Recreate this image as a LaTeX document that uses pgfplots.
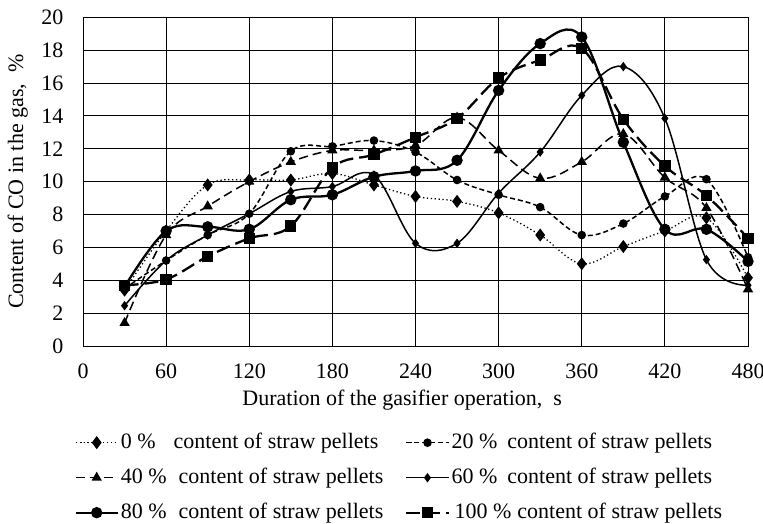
\documentclass[border=0pt]{standalone}
\usepackage{fontspec}
\setmainfont{Liberation Serif}
\usepackage{pgfplots}
\pgfplotsset{compat=1.18}
\begin{document}
\fontsize{22bp}{26bp}\selectfont
\begin{tikzpicture}
\path[use as bounding box] (0bp,0bp) rectangle (763bp,524bp);
\begin{axis}[
  at={(83bp,178bp)}, anchor=south west,
  scale only axis, width=665bp, height=328.7bp,
  xmin=0, xmax=480, ymin=0, ymax=20,
  xtick={0,60,...,480}, ytick={0,2,...,20},
  grid=major, grid style={black, line width=1bp},
  axis line style={black, line width=1bp},
  major tick length=0pt,
  /pgf/number format/assume math mode=true,
  ticklabel style={font=\fontsize{22bp}{26bp}\selectfont},
  yticklabel style={xshift=-12bp},
  xticklabel style={yshift=-10bp},
  xlabel={Duration of the gasifier operation,\ \ s},
  ylabel={Content of CO in the gas,\ \ \%},
  label style={font=\fontsize{22bp}{26bp}\selectfont},
  xlabel style={at={(axis description cs:0.48,-0.18)}, anchor=base},
  ylabel style={at={(axis description cs:-0.098,0.5)}, anchor=center},
  legend columns=2,
  legend cell align=left,
  legend style={at={(axis description cs:-0.013,-0.2616)}, anchor=north west,
    draw=none, fill=none, inner sep=0pt, row sep=14bp,
    font=\fontsize{22bp}{26bp}\selectfont,
    nodes={inner xsep=2bp, inner ysep=0pt, text height=16bp, text depth=5bp},
    /tikz/every even column/.append style={column sep=20bp}},
  legend image code/.code={\draw[mark repeat=2,mark phase=2,#1] plot coordinates {(0bp,0bp) (21bp,0bp) (42bp,0bp)};},
  every axis plot/.append style={smooth, tension=0.6, black},
]
\addplot[line width=1.3bp, dash pattern=on 1.3bp off 2.6bp, mark=diamond*, mark size=5.5bp, mark options={solid}]
 coordinates {(30,3.4)(60,7.0)(90,9.8)(120,10.1)(150,10.1)(180,10.5)(210,9.8)(240,9.1)(270,8.8)(300,8.1)(330,6.75)(360,5.0)(390,6.05)(420,7.0)(450,7.8)(480,4.15)};
\addlegendentry{0 \%\hspace{18bp}content of straw pellets}
\addplot[line width=1.5bp, dash pattern=on 5bp off 3bp, mark=*, mark size=3.5bp, mark options={solid}]
 coordinates {(30,3.5)(60,5.2)(90,6.75)(120,8.05)(150,11.85)(180,12.15)(210,12.5)(240,11.8)(270,10.1)(300,9.2)(330,8.45)(360,6.75)(390,7.45)(420,9.1)(450,10.15)(480,5.4)};
\addlegendentry{20 \%\hspace{10bp}content of straw pellets}
\addplot[line width=1.5bp, dash pattern=on 9bp off 5bp, mark=triangle*, mark size=4.5bp, mark options={solid}]
 coordinates {(30,1.4)(60,6.75)(90,8.5)(120,10.0)(150,11.2)(180,11.9)(210,11.9)(240,12.2)(270,13.9)(300,11.9)(330,10.2)(360,11.2)(390,12.9)(420,10.25)(450,8.4)(480,3.45)};
\addlegendentry{40 \%\hspace{12bp}content of straw pellets}
\addplot[line width=1.5bp, solid, mark=diamond*, mark size=3.5bp]
 coordinates {(30,2.45)(60,5.2)(90,6.75)(120,8.05)(150,9.4)(180,9.7)(210,10.4)(240,6.25)(270,6.25)(300,9.3)(330,11.8)(360,15.25)(390,17.0)(420,13.85)(450,5.25)(480,3.7)};
\addlegendentry{60 \%\hspace{10bp}content of straw pellets}
\addplot[line width=2.3bp, solid, mark=*, mark size=4.5bp]
 coordinates {(30,3.6)(60,7.0)(90,7.25)(120,7.1)(150,8.9)(180,9.2)(210,10.3)(240,10.65)(270,11.3)(300,15.55)(330,18.4)(360,18.8)(390,12.4)(420,7.1)(450,7.1)(480,5.15)};
\addlegendentry{80 \%\hspace{12bp}content of straw pellets}
\addplot[line width=2.3bp, dash pattern=on 14bp off 6bp, mark=square*, mark size=4.5bp, mark options={solid}]
 coordinates {(30,3.7)(60,4.05)(90,5.45)(120,6.55)(150,7.3)(180,10.85)(210,11.65)(240,12.7)(270,13.85)(300,16.3)(330,17.4)(360,18.1)(390,13.8)(420,10.95)(450,9.15)(480,6.55)};
\addlegendentry{\hspace{3bp}100 \%\hspace{6bp}content of straw pellets}
\end{axis}
\end{tikzpicture}
\end{document}
